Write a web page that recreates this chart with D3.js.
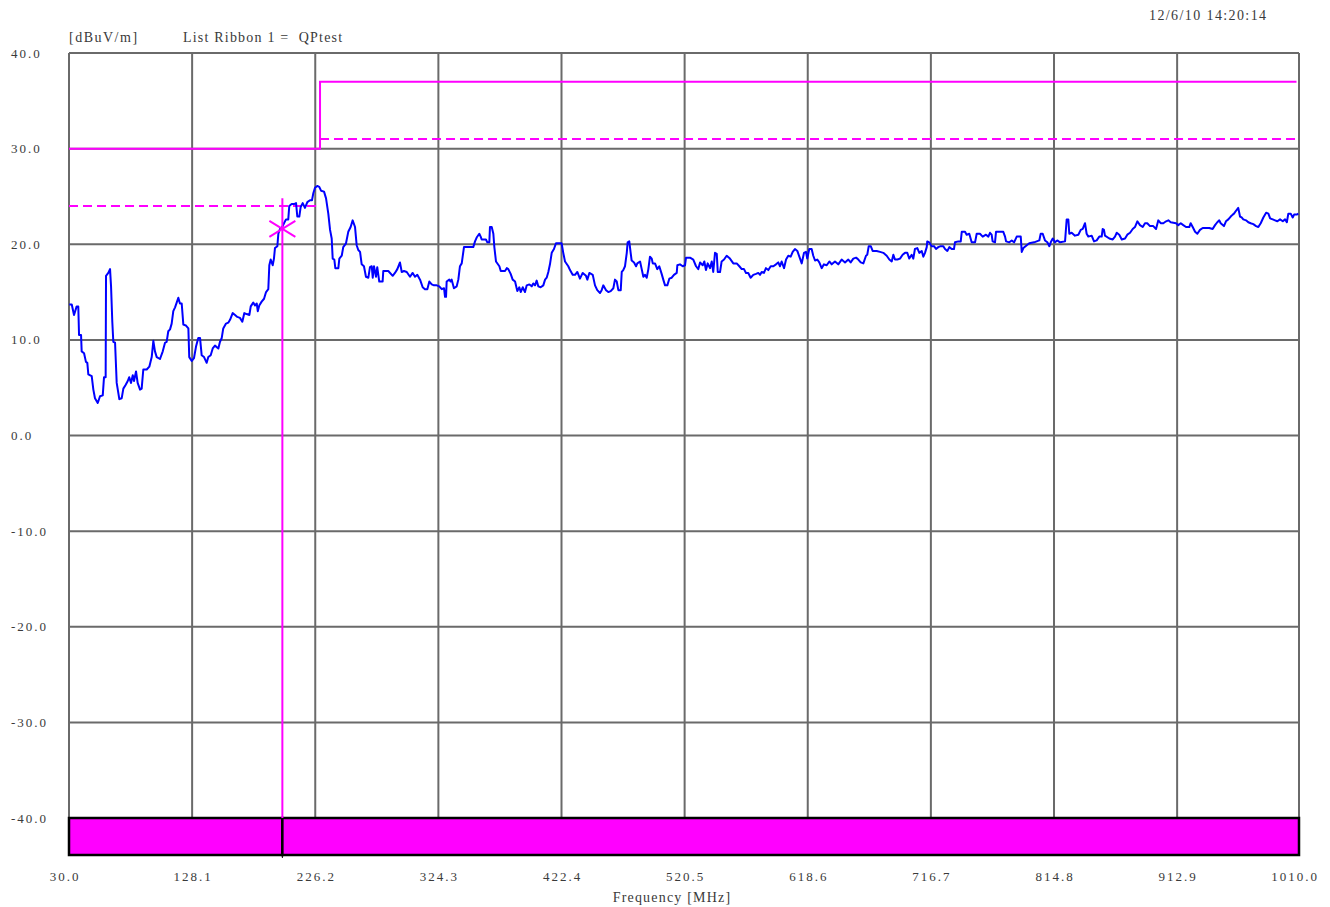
<!DOCTYPE html>
<html>
<head>
<meta charset="utf-8">
<script src="https://cdn.jsdelivr.net/npm/d3@7"></script>
<style>
  body { margin: 0; background: #fff; }
  text { font-family: "Liberation Serif", "DejaVu Serif", serif; fill: #3a3a3a; }
</style>
</head>
<body>
<svg class="scan" width="1330" height="907"></svg>
<script>
// x axis ticks (MHz) and y axis ticks (dBuV/m)
var freqTicks = [30.0, 128.1, 226.2, 324.3, 422.4, 520.5, 618.6, 716.7, 814.8, 912.9, 1010.0];
var levelTicks = [40, 30, 20, 10, 0, -10, -20, -30, -40];

// QP limit and the -6 dB margin line
var limitFreq = [30, 230, 230, 1008];
var limitLevel = [30, 30, 37, 37];
var marginLowFreq = [30, 230];
var marginLowLevel = [24, 24];
var marginHighFreq = [230, 1008];
var marginHighLevel = [31, 31];

// marker
var markerFreq = 200;
var markerLevel = 21.6;
var markerTop = 24.8;

// list ribbon segments
var ribbonFreq = [[30, 200], [200, 1010]];

// measured trace
var freqMHz = [
  30.2, 32.2, 34.0, 36.1, 37.4, 38.0, 39.6, 40.1, 42.0, 43.5, 44.6, 45.4, 48.1, 49.4, 50.7, 52.9, 54.7, 56.9, 57.9, 59.2,
  59.5, 61.3, 62.7, 63.5, 64.5, 65.3, 66.7, 68.0, 70.1, 72.0, 73.3, 75.2, 76.8, 78.0, 79.4, 80.8, 81.8, 83.4, 84.7, 86.6,
  87.9, 89.2, 91.9, 94.0, 95.9, 97.2, 98.5, 99.9, 102.5, 104.7, 106.5, 107.8, 109.1, 110.5, 111.8, 113.1, 114.5, 115.8, 117.1, 118.4,
  119.8, 121.1, 123.2, 125.1, 125.8, 127.8, 129.6, 131.2, 133.0, 134.4, 135.7, 137.6, 139.7, 141.0, 142.9, 144.5, 146.3, 149.0, 150.3, 151.7,
  152.9, 155.1, 156.9, 158.3, 160.4, 162.3, 164.1, 166.2, 168.1, 169.7, 171.6, 173.7, 174.8, 176.8, 178.2, 179.6, 180.4, 181.6, 183.5, 185.4,
  187.0, 188.8, 189.6, 190.7, 192.3, 193.3, 194.1, 196.0, 196.8, 198.1, 199.5, 201.3, 202.9, 204.7, 205.5, 207.4, 209.3, 210.9, 211.9, 213.5,
  214.6, 216.2, 218.0, 219.9, 222.0, 223.6, 224.6, 226.0, 227.8, 229.4, 230.8, 233.2, 234.8, 236.6, 238.0, 239.3, 240.1, 241.4, 242.2, 244.6,
  245.4, 247.3, 248.5, 250.7, 252.5, 254.4, 256.0, 257.9, 259.2, 260.5, 261.9, 263.2, 265.0, 266.6, 268.5, 269.8, 271.2, 272.0, 273.0, 274.6,
  275.6, 277.2, 279.9, 280.4, 284.4, 287.9, 289.7, 291.6, 293.7, 295.1, 296.9, 299.1, 301.7, 303.8, 305.7, 307.5, 309.7, 311.8, 313.6, 315.5,
  317.1, 319.0, 320.8, 323.0, 325.0, 327.0, 328.8, 329.6, 330.4, 330.9, 333.0, 334.1, 334.9, 336.7, 338.9, 340.2, 341.5, 342.9, 344.7, 352.1,
  353.5, 354.8, 356.9, 358.0, 358.8, 362.2, 363.3, 364.9, 365.4, 366.8, 368.1, 368.9, 370.2, 372.9, 374.0, 377.4, 378.8, 380.0, 381.9, 383.5,
  385.4, 387.2, 388.8, 389.9, 391.5, 393.3, 394.7, 396.8, 398.7, 399.9, 401.3, 402.6, 403.9, 405.8, 407.9, 409.3, 410.6, 411.9, 413.2, 414.6,
  416.4, 418.0, 422.5, 423.8, 425.2, 427.8, 429.2, 431.3, 433.2, 435.0, 437.1, 439.3, 441.9, 443.0, 444.6, 447.3, 449.1, 450.9, 453.1, 454.4,
  455.7, 457.9, 459.7, 461.6, 463.7, 465.0, 466.4, 467.7, 469.6, 470.4, 471.6, 473.0, 474.4, 475.1, 476.4, 477.5, 478.3, 480.2, 481.8, 482.8,
  485.0, 486.3, 487.6, 488.9, 490.3, 491.6, 492.9, 494.3, 495.1, 496.9, 498.7, 500.3, 502.2, 503.5, 504.9, 506.7, 508.3, 510.2, 512.0, 514.2,
  514.7, 516.8, 519.0, 520.8, 521.6, 524.8, 527.4, 529.6, 531.4, 532.8, 534.9, 536.2, 537.5, 538.9, 540.7, 542.1, 543.3, 544.7, 546.1, 546.9,
  548.7, 550.0, 551.9, 554.0, 556.6, 559.3, 562.0, 564.1, 566.0, 567.8, 569.4, 571.2, 573.1, 575.2, 577.4, 579.2, 580.6, 581.9, 583.7, 585.3,
  587.2, 589.1, 591.2, 593.3, 595.1, 596.5, 597.8, 599.7, 601.3, 603.1, 605.0, 606.6, 608.4, 610.3, 611.9, 613.8, 615.6, 617.2, 618.2, 619.8,
  621.7, 623.0, 624.4, 626.2, 627.8, 629.7, 631.5, 633.7, 635.8, 637.7, 640.3, 642.9, 645.6, 648.3, 650.9, 652.8, 654.9, 657.1, 658.9, 660.8,
  662.9, 665.0, 666.0, 667.2, 668.8, 670.3, 673.5, 676.2, 678.8, 681.5, 683.6, 685.5, 686.8, 688.1, 690.0, 692.1, 694.2, 696.1, 697.9, 699.5,
  701.4, 702.7, 704.0, 705.9, 707.5, 709.4, 710.7, 712.0, 713.4, 713.8, 715.4, 717.3, 719.2, 720.8, 722.6, 724.5, 726.6, 728.0, 729.8, 731.4,
  733.3, 735.1, 735.9, 738.6, 740.5, 741.3, 743.9, 745.2, 747.3, 749.2, 751.9, 753.2, 755.8, 758.0, 760.6, 762.5, 763.8, 765.1, 765.9, 767.8,
  768.6, 774.4, 775.8, 776.6, 779.2, 781.1, 783.0, 785.1, 788.3, 789.1, 790.4, 793.1, 795.1, 798.9, 801.0, 803.1, 804.2, 805.8, 807.6, 809.5,
  811.1, 812.2, 813.8, 815.6, 817.4, 819.6, 823.6, 824.9, 826.2, 827.0, 828.9, 831.5, 834.2, 836.1, 837.7, 839.5, 840.8, 842.1, 844.8, 846.7,
  848.8, 850.9, 852.8, 853.6, 854.6, 855.4, 858.9, 861.6, 863.4, 864.8, 866.8, 868.8, 871.4, 873.2, 875.4, 877.5, 879.3, 881.2, 883.3, 885.5,
  887.3, 889.1, 891.3, 893.9, 896.1, 897.9, 899.8, 901.9, 904.1, 905.9, 907.8, 912.0, 913.8, 915.8, 917.8, 920.0, 922.6, 923.7, 925.3, 927.2,
  929.0, 931.1, 933.3, 938.5, 941.2, 943.1, 944.9, 946.5, 947.6, 950.2, 951.8, 953.7, 955.6, 957.2, 958.2, 959.8, 961.6, 963.0, 964.3, 965.6,
  967.8, 969.6, 971.5, 973.6, 975.8, 977.6, 979.5, 981.6, 983.8, 985.6, 987.0, 989.1, 990.9, 992.8, 994.9, 997.1, 998.9, 1000.3, 1001.5, 1003.4,
  1005.0, 1006.1, 1008.2, 1009.5
];
var levelDb = [
  13.7, 13.7, 12.6, 13.5, 13.5, 10.5, 10.5, 8.8, 8.6, 7.7, 7.6, 6.4, 6.2, 4.8, 3.9, 3.4, 4.1, 4.2, 6.1, 6.1,
  16.7, 17.0, 17.4, 15.6, 11.9, 9.8, 9.7, 5.5, 3.8, 3.9, 4.9, 5.3, 5.7, 6.1, 5.5, 6.3, 5.7, 6.7, 5.5, 4.8,
  4.9, 6.9, 6.9, 7.2, 8.2, 9.9, 8.8, 8.2, 8.0, 8.8, 9.7, 9.8, 10.9, 11.1, 11.7, 13.0, 13.4, 13.9, 14.4, 13.8,
  13.8, 11.6, 11.5, 11.2, 8.2, 7.8, 8.1, 9.3, 10.2, 10.2, 8.4, 8.2, 7.6, 8.2, 8.4, 9.1, 9.4, 9.1, 9.8, 10.2,
  11.2, 11.7, 11.8, 12.1, 12.8, 12.6, 12.4, 12.3, 11.9, 12.8, 12.7, 12.6, 13.5, 13.9, 13.6, 13.8, 13.0, 13.6, 14.0, 14.3,
  15.0, 15.3, 17.8, 18.4, 17.8, 18.5, 19.6, 19.8, 21.1, 21.6, 21.7, 22.2, 22.6, 22.6, 24.0, 24.2, 24.2, 24.3, 22.9, 22.9,
  23.9, 24.3, 23.8, 24.4, 24.6, 24.6, 25.3, 25.9, 26.1, 26.0, 25.6, 25.5, 24.8, 23.2, 21.5, 20.6, 18.5, 18.4, 17.5, 17.5,
  18.5, 18.8, 19.7, 20.1, 21.3, 21.8, 22.5, 21.8, 19.9, 19.4, 19.2, 17.9, 17.7, 16.6, 16.5, 17.6, 17.7, 16.5, 17.7, 16.6,
  17.6, 16.1, 16.1, 17.2, 17.2, 16.7, 17.0, 17.4, 18.1, 17.1, 17.2, 17.1, 16.6, 17.0, 16.6, 16.8, 16.3, 15.5, 15.3, 15.3,
  16.1, 15.8, 15.7, 15.7, 15.6, 15.3, 15.4, 14.5, 14.5, 16.1, 16.3, 16.1, 16.3, 15.4, 15.6, 16.3, 17.7, 18.0, 19.7, 19.7,
  20.3, 20.7, 21.1, 20.8, 20.5, 20.5, 20.2, 20.2, 21.8, 21.8, 21.1, 19.7, 18.2, 17.7, 17.2, 17.2, 17.5, 17.4, 16.9, 16.3,
  16.1, 15.1, 15.5, 15.0, 15.5, 15.0, 15.7, 15.8, 15.6, 15.9, 15.7, 16.2, 15.6, 15.5, 15.7, 16.3, 16.5, 17.1, 17.9, 19.1,
  19.5, 20.1, 20.1, 19.1, 18.2, 17.7, 17.3, 16.8, 16.8, 17.1, 16.4, 17.0, 16.7, 16.3, 17.0, 16.8, 15.7, 15.2, 14.9, 15.2,
  15.7, 15.2, 15.0, 15.1, 15.4, 16.3, 16.1, 15.2, 15.2, 17.1, 17.3, 17.7, 19.1, 20.2, 20.3, 19.1, 18.3, 18.1, 17.7, 18.0,
  18.2, 17.4, 16.6, 16.8, 16.5, 17.4, 18.7, 18.5, 18.0, 18.0, 17.4, 17.7, 16.9, 16.3, 15.7, 15.7, 16.4, 16.5, 16.8, 17.0,
  17.8, 17.9, 17.7, 17.8, 18.6, 18.6, 18.4, 17.7, 17.4, 18.1, 17.8, 18.2, 17.3, 18.0, 17.5, 18.2, 17.1, 19.1, 19.0, 17.1,
  17.1, 18.2, 18.4, 18.8, 18.5, 18.0, 18.0, 17.7, 17.4, 17.4, 17.0, 17.0, 16.5, 16.8, 16.9, 17.0, 16.8, 17.1, 17.0, 17.5,
  17.3, 17.7, 17.7, 17.9, 18.1, 17.7, 18.2, 17.5, 18.4, 18.8, 18.7, 19.2, 19.5, 19.3, 18.7, 18.0, 19.1, 19.2, 18.5, 19.5,
  19.5, 18.8, 18.3, 18.4, 18.1, 17.5, 17.9, 17.8, 18.2, 17.9, 18.2, 17.9, 18.4, 18.1, 18.4, 18.1, 18.5, 18.6, 18.4, 18.1,
  18.0, 18.8, 18.9, 19.8, 19.8, 19.3, 19.3, 19.2, 19.1, 18.8, 18.4, 18.2, 18.9, 18.4, 18.4, 18.5, 18.9, 19.1, 19.1, 18.5,
  18.9, 18.5, 19.5, 19.6, 19.1, 19.3, 18.7, 19.1, 19.7, 20.3, 20.2, 19.8, 19.8, 19.5, 19.7, 19.8, 19.8, 19.5, 19.3, 19.7,
  19.5, 19.5, 20.2, 20.3, 20.3, 21.3, 21.3, 21.0, 21.1, 20.2, 20.2, 21.1, 21.1, 20.8, 21.0, 20.8, 21.2, 21.0, 20.3, 20.2,
  21.3, 21.3, 20.8, 20.3, 20.2, 20.4, 20.2, 20.8, 20.8, 19.2, 19.6, 19.9, 20.1, 20.2, 20.3, 20.4, 21.1, 21.1, 20.4, 20.2,
  19.8, 20.2, 20.6, 20.2, 20.4, 20.2, 20.3, 22.6, 22.6, 21.1, 21.2, 20.9, 21.0, 21.5, 21.6, 22.2, 21.1, 20.8, 20.9, 20.3,
  20.4, 20.8, 20.8, 21.6, 21.5, 20.9, 20.6, 20.5, 20.8, 21.2, 21.0, 20.5, 20.6, 21.0, 21.2, 21.6, 21.8, 22.4, 22.0, 21.8,
  22.2, 22.2, 21.9, 21.9, 21.6, 22.5, 22.2, 22.2, 22.4, 22.5, 22.3, 22.2, 22.0, 22.2, 22.0, 21.8, 21.8, 22.2, 21.8, 21.3,
  21.1, 21.5, 21.7, 21.7, 21.6, 22.0, 22.3, 22.5, 22.2, 21.9, 22.4, 22.6, 22.9, 23.1, 23.2, 23.5, 23.8, 22.9, 22.8, 22.6,
  22.5, 22.3, 22.2, 22.1, 21.9, 21.8, 22.2, 22.8, 23.3, 23.2, 22.7, 22.6, 22.5, 22.4, 22.6, 22.4, 22.6, 22.3, 23.2, 23.2,
  22.8, 23.1, 23.1, 23.2
];

window.onload = function(){

    // plot area
    var left = 69, right = 1299, top = 53, ribbonH = 37;

    var x = d3.scaleLinear().domain([30, 1010]).range([left, right]);
    var y = d3.scaleLinear().domain([-40, 40]).range([818, top]);
    var bottom = y(-40) + ribbonH;

    // plain hyphen for negatives, like the analyser prints it
    var fmt = function(d){ return d.toFixed(1); };

    var svg = d3.select(".scan");

    // grid
    var grid = svg.append("g").attr("stroke", "#6a6a6a").attr("stroke-width", 2);
    grid.selectAll(".v").data(freqTicks).enter().append("line")
        .attr("x1", function(d){ return x(d); }).attr("x2", function(d){ return x(d); })
        .attr("y1", top).attr("y2", y(-40));
    grid.selectAll(".h").data(levelTicks).enter().append("line")
        .attr("x1", left).attr("x2", right)
        .attr("y1", function(d){ return y(d); }).attr("y2", function(d){ return y(d); });
    grid.append("line").attr("x1", left).attr("x2", left).attr("y1", top).attr("y2", bottom);
    grid.append("line").attr("x1", right).attr("x2", right).attr("y1", top).attr("y2", bottom);

    // y labels, left aligned
    svg.append("g").selectAll("text").data(levelTicks).enter().append("text")
        .attr("x", 11).attr("y", function(d){ return y(d); }).attr("dy", "0.35em")
        .attr("font-size", 13).attr("letter-spacing", 2)
        .text(fmt);

    // x labels, first and last pulled in a little
    svg.append("g").selectAll("text").data(freqTicks).enter().append("text")
        .attr("x", function(d, i){
            if (i == 0 || i == freqTicks.length - 1) return x(d) - 4;
            return x(d) + 1;
        })
        .attr("y", 881)
        .attr("text-anchor", "middle")
        .attr("font-size", 13).attr("letter-spacing", 2)
        .text(fmt);

    svg.append("text").attr("x", 672).attr("y", 902).attr("text-anchor", "middle")
        .attr("font-size", 14).attr("letter-spacing", 1.2).text("Frequency [MHz]");
    svg.append("text").attr("x", 69).attr("y", 42)
        .attr("font-size", 14).attr("letter-spacing", 1.5).text("[dBuV/m]");
    svg.append("text").attr("x", 183).attr("y", 42)
        .attr("font-size", 14).attr("letter-spacing", 1.2).attr("xml:space", "preserve")
        .text("List Ribbon 1 =  QPtest");
    svg.append("text").attr("x", 1149).attr("y", 20)
        .attr("font-size", 14).attr("letter-spacing", 1.4).text("12/6/10 14:20:14");

    // line accessor for parallel arrays
    var line = d3.line()
        .x(function(d){ return x(d[0]); })
        .y(function(d){ return y(d[1]); });

    // limit and margin lines
    svg.append("path").attr("d", line(d3.zip(limitFreq, limitLevel)))
        .attr("stroke", "#ff00ff").attr("stroke-width", 2).attr("fill", "none");
    svg.append("path").attr("d", line(d3.zip(marginLowFreq, marginLowLevel)))
        .attr("stroke", "#ff00ff").attr("stroke-width", 2).attr("stroke-dasharray", "9,5").attr("fill", "none");
    svg.append("path").attr("d", line(d3.zip(marginHighFreq, marginHighLevel)))
        .attr("stroke", "#ff00ff").attr("stroke-width", 2).attr("stroke-dasharray", "9,5").attr("fill", "none");

    // trace
    svg.append("path").attr("d", line(d3.zip(freqMHz, levelDb)))
        .attr("stroke", "#0000ff").attr("stroke-width", 2).attr("fill", "none")
        .attr("stroke-linejoin", "round");

    // ribbon
    svg.append("g").selectAll("rect").data(ribbonFreq).enter().append("rect")
        .attr("x", function(d){ return x(d[0]); }).attr("y", y(-40))
        .attr("width", function(d){ return x(d[1]) - x(d[0]); }).attr("height", ribbonH)
        .attr("fill", "#ff00ff").attr("stroke", "#000").attr("stroke-width", 2.5);
    svg.append("line").attr("x1", x(markerFreq)).attr("x2", x(markerFreq))
        .attr("y1", bottom).attr("y2", bottom + 3).attr("stroke", "#000").attr("stroke-width", 1);

    // marker
    var mx = x(markerFreq), my = y(markerLevel);
    svg.append("line").attr("x1", mx).attr("x2", mx).attr("y1", y(markerTop)).attr("y2", y(-40))
        .attr("stroke", "#ff00ff").attr("stroke-width", 2);
    svg.append("path")
        .attr("d", "M" + (mx - 13) + "," + (my - 8) + "L" + (mx + 13) + "," + (my + 8) +
                   "M" + (mx - 13) + "," + (my + 8) + "L" + (mx + 13) + "," + (my - 8))
        .attr("stroke", "#ff00ff").attr("stroke-width", 2);

}
</script>
</body>
</html>
